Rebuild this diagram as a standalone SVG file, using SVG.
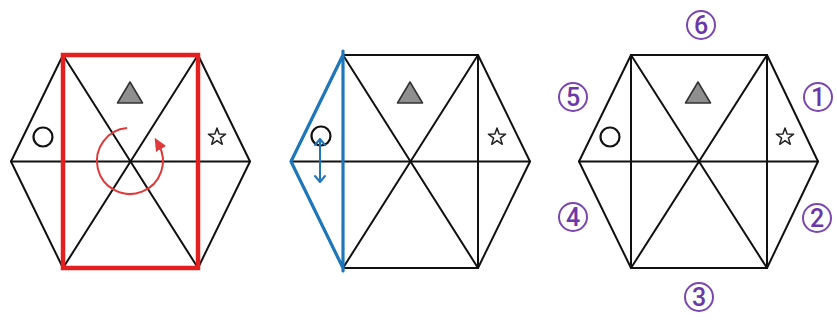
<svg xmlns="http://www.w3.org/2000/svg" width="837" height="320" viewBox="0 0 837 320">
<style>
.ln{stroke:#111;stroke-width:2;fill:none;stroke-linejoin:round;stroke-linecap:round}
.tri{fill:#8f8f8f;stroke:#333;stroke-width:1.6;stroke-linejoin:round}
.circ{fill:none;stroke:#111;stroke-width:2.2}
.star{fill:#fff;stroke:#222;stroke-width:1.5;stroke-linejoin:round}
.red{stroke:#e3201f;stroke-width:4.5;fill:none}
.blue{stroke:#1f77bb;stroke-width:3.2;fill:none;stroke-linejoin:round;stroke-linecap:round}
.barr{stroke:#1f77bb;stroke-width:2;fill:none;stroke-linejoin:round;stroke-linecap:round}
.nc{fill:#fff;stroke:#7a46b0;stroke-width:2}
.num{font-family:Roboto,"Liberation Sans",sans-serif;font-weight:500;font-size:25px;fill:#6a38a8;text-anchor:middle}
</style>
<defs>
<marker id="rh" viewBox="0 0 10 10" refX="4" refY="5" markerWidth="13" markerHeight="13" orient="auto" markerUnits="userSpaceOnUse">
<path d="M0,0.5 L10,5 L0,9.5 z" fill="#e0393a"/>
</marker>
<path id="starShape" d="M0,-9 L2.1,-2.9 L8.6,-2.8 L3.4,1.1 L5.3,7.3 L0,3.6 L-5.3,7.3 L-3.4,1.1 L-8.6,-2.8 L-2.1,-2.9 Z"/>
</defs>

<g id="hexagon1">
<polygon class="ln" points="11,161.5 63,55 198,55 250,161.5 198,268 63,268"/>
<line class="ln" x1="63" y1="55" x2="198" y2="268"/>
<line class="ln" x1="198" y1="55" x2="63" y2="268"/>
<line class="ln" x1="11" y1="161.5" x2="250" y2="161.5"/>
<rect class="red" x="63" y="55" width="135" height="213"/>
<polygon class="tri" points="130,82 117.5,103 142.5,103"/>
<circle class="circ" cx="43" cy="137" r="9.5"/>
<use href="#starShape" class="star" x="217" y="137"/>
<path d="M127.1,128.1 A33,33 0 1 0 158.5,144.5" fill="none" stroke="#e0393a" stroke-width="2" marker-end="url(#rh)"/>
</g>

<g id="hexagon2">
<polygon class="ln" points="291,161.5 343,55 478,55 530,161.5 478,268 343,268"/>
<line class="ln" x1="343" y1="55" x2="478" y2="268"/>
<line class="ln" x1="478" y1="55" x2="343" y2="268"/>
<line class="ln" x1="291" y1="161.5" x2="530" y2="161.5"/>
<line class="ln" x1="478" y1="55" x2="478" y2="268"/>
<path class="blue" d="M343,51 L343,271 M343,55 L291,161.5 L343,268"/>
<polygon class="tri" points="410,82 397.5,103 422.5,103"/>
<circle class="circ" cx="321" cy="136" r="9.5"/>
<use href="#starShape" class="star" x="497" y="137"/>
<path class="barr" d="M320,139 L320,182 M315,145 L320,139 L325,145 M315,176 L320,182 L325,176"/>
</g>

<g id="hexagon3">
<polygon class="ln" points="579,161.5 631,55 767,55 818,161.5 767,268 631,268"/>
<line class="ln" x1="631" y1="55" x2="767" y2="268"/>
<line class="ln" x1="767" y1="55" x2="631" y2="268"/>
<line class="ln" x1="579" y1="161.5" x2="818" y2="161.5"/>
<line class="ln" x1="631" y1="55" x2="631" y2="268"/>
<line class="ln" x1="767" y1="55" x2="767" y2="268"/>
<polygon class="tri" points="698,82 685.5,103 710.5,103"/>
<circle class="circ" cx="610" cy="137" r="9.5"/>
<use href="#starShape" class="star" x="785" y="137"/>
</g>

<g id="labels">
<g id="lbl6"><circle class="nc" cx="701" cy="25" r="14"/><text class="num" x="701" y="34">6</text></g>
<g id="lbl1"><circle class="nc" cx="818" cy="97" r="14"/><text class="num" x="818" y="106">1</text></g>
<g id="lbl2"><circle class="nc" cx="817" cy="218" r="14"/><text class="num" x="817" y="227">2</text></g>
<g id="lbl3"><circle class="nc" cx="699" cy="297" r="14"/><text class="num" x="699" y="306">3</text></g>
<g id="lbl4"><circle class="nc" cx="573" cy="217" r="14"/><text class="num" x="573" y="226">4</text></g>
<g id="lbl5"><circle class="nc" cx="573" cy="97" r="14"/><text class="num" x="573" y="106">5</text></g>
</g>
</svg>
